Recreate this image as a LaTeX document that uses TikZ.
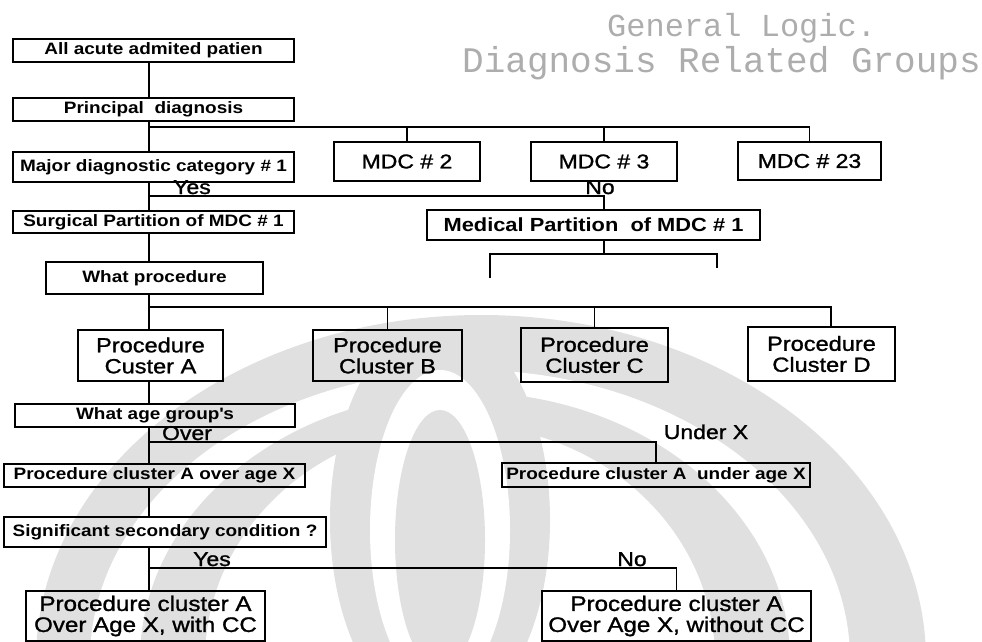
\documentclass[tikz,border=0pt]{standalone}
\usepackage{fontspec}
\setmainfont{Liberation Sans}[FakeStretch=1.15]
\newfontfamily\heavyfont{Liberation Sans}[FakeStretch=1.15, FakeBold=1.2]
\newfontfamily\titlefont{Liberation Mono}
\usetikzlibrary{calc}

\tikzset{
  box/.style={draw, line width=1.8pt, inner sep=0pt, align=center},
  smallbox/.style={box, font=\fontsize{16.5}{17}\selectfont\bfseries},
  mdcbox/.style={box, font=\heavyfont\fontsize{20}{21}\selectfont},
  partbox/.style={box, font=\fontsize{19}{20}\selectfont\bfseries},
  clusterbox/.style={box, font=\heavyfont\fontsize{20.5}{21}\selectfont},
  finalbox/.style={box, font=\heavyfont\fontsize{21}{21}\selectfont},
  branchlabel/.style={inner sep=0pt, anchor=base, font=\heavyfont\fontsize{20}{20}\selectfont},
  link/.style={line width=1.6pt},
  wm/.style={fill=black!12},
  titletext/.style={inner sep=0pt, anchor=base west, text=black!32}
}

\begin{document}
\begin{tikzpicture}[x=1pt,y=-1pt]
\useasboundingbox (0,0) rectangle (982,642);

% faint emblem in the background
\begin{scope}
  \clip (0,0) rectangle (982,642);
  \fill[wm]    (481,660) ellipse [x radius=445pt, y radius=345pt];
  \fill[white] (470,660) ellipse [x radius=380pt, y radius=290pt];
  \fill[wm]    (465,660) ellipse [x radius=325pt, y radius=268pt];
  \fill[white] (460,660) ellipse [x radius=255pt, y radius=235pt];
  \fill[wm]    (440,520) ellipse [x radius=110pt, y radius=200pt];
  \fill[white] (440,530) ellipse [x radius=70pt, y radius=160pt];
  \fill[wm]    (440,540) ellipse [x radius=45pt, y radius=130pt];
\end{scope}

% title
\node[titletext, font=\titlefont\fontsize{32}{32}\selectfont] (t1) at (607,37) {General Logic.};
\node[titletext, font=\titlefont\fontsize{36}{36}\selectfont] (t2) at (462,73) {Diagnosis Related Groups};

% main column
\coordinate (sp) at (149,0);
\node[smallbox, minimum width=281pt, minimum height=23pt] (n1) at (153.5,50.5) {All acute admited patien};
\node[smallbox, minimum width=281pt, minimum height=23pt] (n2) at (153.5,109.5) {Principal\ \ diagnosis};
\node[smallbox, minimum width=281pt, minimum height=30pt] (mdc1) at (153.5,167) {Major diagnostic category \# 1};
\node[mdcbox, minimum width=146pt, minimum height=39pt] (mdc2) at (407,161.5) {MDC \# 2};
\node[mdcbox, minimum width=146pt, minimum height=39pt] (mdc3) at (604,161.5) {MDC \# 3};
\node[mdcbox, minimum width=143pt, minimum height=38pt] (mdc23) at (809.5,161) {MDC \# 23};
\node[smallbox, minimum width=281pt, minimum height=22pt] (surg) at (153.5,222) {Surgical Partition of MDC \# 1};
\node[partbox, minimum width=333pt, minimum height=30pt] (med) at (593.5,225) {Medical Partition\ \ of MDC \# 1};
\node[smallbox, minimum width=217pt, minimum height=32pt] (whatproc) at (154.5,278) {What procedure};

\node[clusterbox, minimum width=145pt, minimum height=51pt] (cA) at (150.5,355.5) {Procedure\\Custer A};
\node[clusterbox, minimum width=149pt, minimum height=51pt, line width=2.2pt] (cB) at (387.5,355.5) {Procedure\\Cluster B};
\node[clusterbox, minimum width=147pt, minimum height=54pt] (cC) at (594.5,355) {Procedure\\Cluster C};
\node[clusterbox, minimum width=147pt, minimum height=54pt] (cD) at (821.5,354) {Procedure\\Cluster D};

\node[smallbox, minimum width=280pt, minimum height=23pt] (agegrp) at (155,415.5) {What age group\textquotesingle s};
\node[smallbox, minimum width=301pt, minimum height=23pt] (overX) at (154.5,475.5) {Procedure cluster A over age X};
\node[smallbox, minimum width=308pt, minimum height=24pt] (underX) at (656,475) {Procedure cluster A\ \ under age X};
\node[smallbox, minimum width=322pt, minimum height=30pt] (signif) at (165,532) {Significant secondary condition ?};
\node[finalbox, minimum width=239pt, minimum height=50pt] (withCC) at (145.5,616) {Procedure cluster A\\Over Age X, with CC};
\node[finalbox, minimum width=269pt, minimum height=50pt] (withoutCC) at (676.5,616) {Procedure cluster A\\Over Age X, without CC};

% spine
\draw[link] (n1.south -| sp) -- (n2.north -| sp);
\draw[link] (n2.south -| sp) -- (mdc1.north -| sp);
\draw[link] (mdc1.south -| sp) -- (surg.north -| sp);
\draw[link] (surg.south -| sp) -- (whatproc.north -| sp);
\draw[link] (whatproc.south -| sp) -- (cA.north -| sp);
\draw[link] (cA.south -| sp) -- (agegrp.north -| sp);
\draw[link] (agegrp.south -| sp) -- (overX.north -| sp);
\draw[link] (overX.south -| sp) -- (signif.north -| sp);
\draw[link] (signif.south -| sp) -- (withCC.north -| sp);

% MDC branches
\coordinate (j1) at (149,127);
\draw[link] (j1) -| (mdc2.north);
\draw[link] (j1) -| (mdc3.north);
\draw[link] (j1) -| (mdc23.north);

% surgical / medical split
\coordinate (j2) at (149,196);
\draw[link] (j2) -| (mdc3.south |- med.north);
\node[branchlabel] (yes1) at (192,194) {Yes};
\node[branchlabel] (no1) at (600,194) {No};

% medical partition bracket
\coordinate (mj) at (604,254);
\coordinate (bl) at (490,278);
\coordinate (br) at (717,268);
\draw[link] (mdc3.south |- med.south) -- (mj);
\draw[link] (bl) |- (mj) -| (br);

% procedure clusters
\coordinate (j3) at (149,307);
\draw[link] (j3) -| (cB.north);
\draw[link] (j3) -| (cC.north);
\draw[link] (j3) -| ([xshift=9.5pt]cD.north);

% age split
\coordinate (j4) at (149,442);
\draw[link] (j4) -| (underX.north);
\node[branchlabel] (over) at (187,440) {Over};
\node[branchlabel] (under) at (706,439) {Under X};

% complication split
\coordinate (j5) at (149,568);
\draw[link] (j5) -| (withoutCC.north);
\node[branchlabel] (yes2) at (212,566) {Yes};
\node[branchlabel] (no2) at (632,566) {No};
\end{tikzpicture}
\end{document}
